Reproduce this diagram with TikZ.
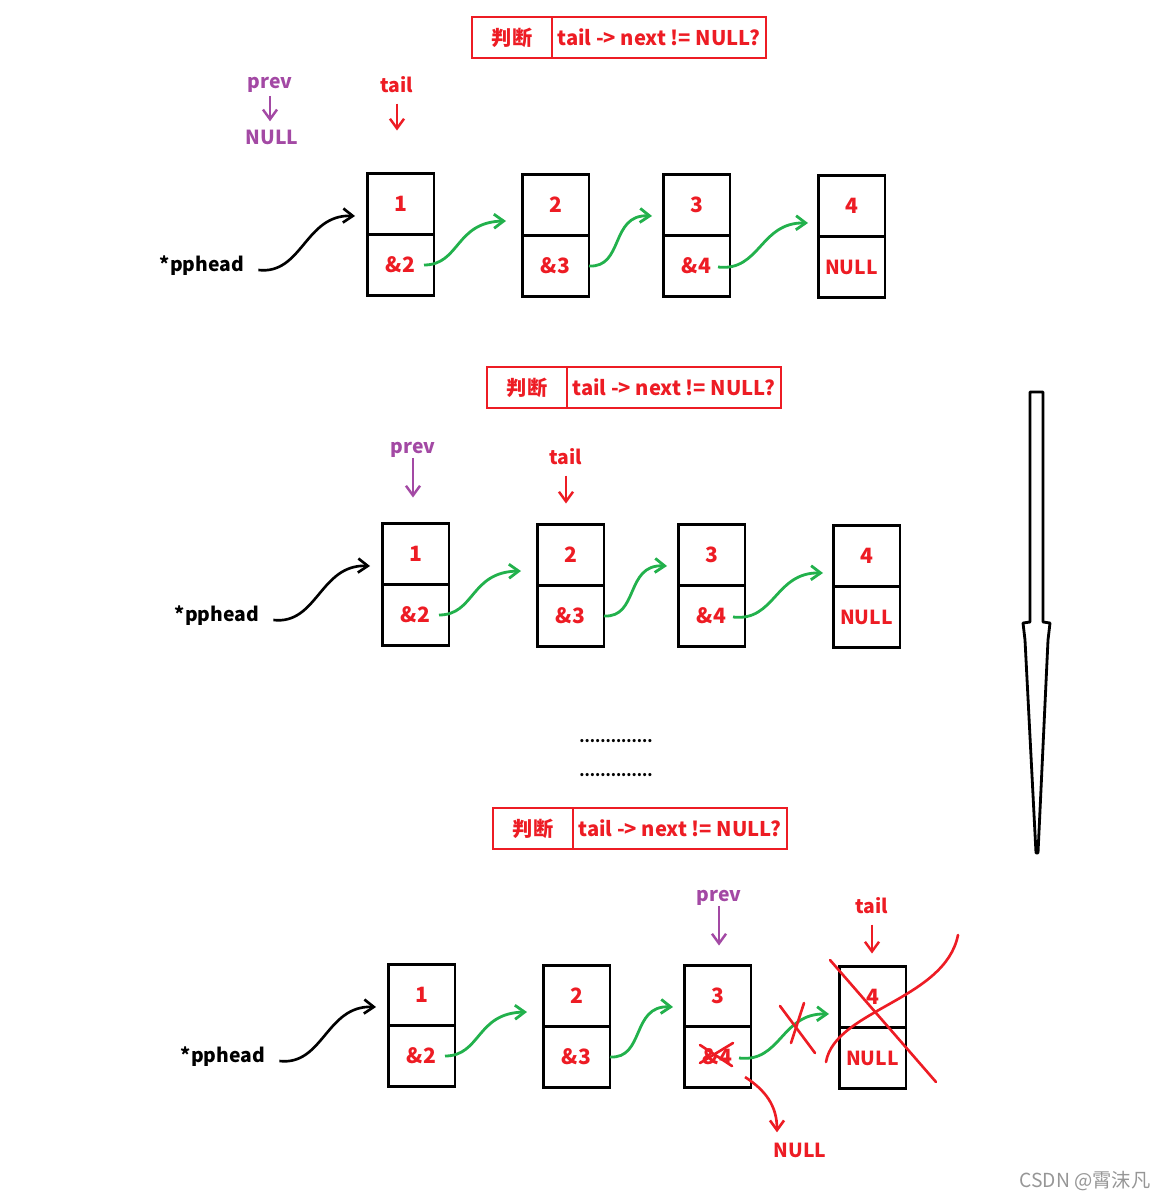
\documentclass[tikz,border=0pt]{standalone}
\usepackage{fontspec}
\setmainfont{Noto Sans CJK SC}
\usetikzlibrary{arrows.meta, positioning, calc}
\usepackage{xcolor}
\definecolor{lred}{RGB}{237, 28, 36}
\definecolor{lgreen}{RGB}{34, 177, 76}
\definecolor{lpurple}{RGB}{163, 73, 164}
\definecolor{lgray}{RGB}{150, 150, 150}

\begin{document}
\begin{tikzpicture}[x=0.02cm, y=-0.02cm,
  cell/.style={rectangle, draw=black, line width=1.7pt, outer sep=0pt,
               minimum width=1.34cm, minimum height=1.22cm, inner sep=0pt,
               font=\fontsize{12}{14}\selectfont\bfseries, text=lred},
  cond/.style={rectangle, draw=lred, line width=1.6pt, outer sep=0pt,
               minimum height=0.82cm, inner sep=0pt,
               font=\fontsize{11.5}{13}\selectfont\bfseries, text=lred},
  lbl/.style={font=\fontsize{11}{13}\selectfont\bfseries, inner sep=0pt},
  link/.style={-{Straight Barb[length=5.5pt, width=8pt]}, line width=1.6pt, lgreen},
  ptr/.style={-{Straight Barb[length=5.5pt, width=8pt]}, line width=1.4pt},
  cross/.style={lred, line width=1.5pt, line cap=round}
]
\useasboundingbox (0,0) rectangle (1166,1200);

% three snapshots of the list
\foreach \s/\dx/\dy in {a/0/0, b/15/350, c/21/791} {
  \begin{scope}[shift={(\dx,\dy)}]
    \node[cond, minimum width=1.6cm] (\s-judge) at (512,37.5) {判断};
    \node[cond, minimum width=4.28cm, anchor=west] (\s-cond) at (\s-judge.east)
      {tail -> next != NULL?};

    \node[cell] (\s1d) at (400.5,204) {1};
    \node[cell] (\s1p) at (400.5,265) {\&2};
    \node[cell] (\s2d) at (555.5,205) {2};
    \node[cell] (\s2p) at (555.5,266) {\&3};
    \node[cell] (\s3d) at (696.5,205) {3};
    \node[cell] (\s3p) at (696.5,266) {\&4};
    \node[cell] (\s4d) at (851.5,206) {4};
    \node[cell, font=\fontsize{11}{13}\selectfont\bfseries] (\s4p) at (851.5,267) {NULL};

    \node[lbl] (\s-head) at (202,266) {*pphead};
    \draw[ptr, line width=1.5pt] ($(\s-head.east)+(14,4)$)
      .. controls +(44,5) and +(-50,-2) .. ($(\s1d.west)+(-12,12)$);

    \draw[link] ($(\s1p.center)+(23.5,0)$)
      .. controls +(36,0) and +(-51,1) .. ($(\s2d.west)+(-16,16)$);
    \draw[link] (\s2p.east)
      .. controls +(35,2) and +(-42,-2) .. ($(\s3d.west)+(-11,11)$);
    \draw[link] ($(\s3p.center)+(21.5,1)$)
      .. controls +(42,5) and +(-48,-1) .. ($(\s4d.west)+(-10,17)$);
  \end{scope}
}

% pointers, first pass
\node[lbl, text=lpurple] (pv1) at (270,85) {prev};
\node[lbl, text=lpurple] (pn1) at (272,137) {NULL};
\draw[ptr, lpurple, shorten <=0.06cm, shorten >=0.16cm] (pv1.south) -- (pv1.south |- pn1.north);
\node[lbl, text=lred] (tl1) at (397,85) {tail};
\draw[ptr, lred, shorten <=0.2cm, shorten >=0.86cm] (tl1.south) -- (tl1.south |- a1d.north);

% pointers, second pass
\node[lbl, text=lpurple] (pv2) at (413,450) {prev};
\draw[ptr, lpurple, shorten >=0.52cm] (pv2.south) -- (pv2.south |- b1d.north);
\node[lbl, text=lred] (tl2) at (566,457) {tail};
\draw[ptr, lred, shorten <=0.2cm, shorten >=0.42cm] (tl2.south) -- (tl2.south |- b2d.north);

% dots
\node[lbl, font=\fontsize{8.5}{10}\selectfont\bfseries] (dots1) at (616,741) {..............};
\node[lbl, font=\fontsize{8.5}{10}\selectfont\bfseries] (dots2) at (616,775) {..............};

% pointers, last pass
\node[lbl, text=lpurple] (pv3) at (719,898) {prev};
\draw[ptr, lpurple, shorten >=0.4cm] (pv3.south) -- (pv3.south |- c3d.north);
\node[lbl, text=lred] (tl3) at (872,906) {tail};
\draw[ptr, lred, shorten <=0.2cm, shorten >=0.26cm] (tl3.south) -- (tl3.south |- c4d.north);

% unlink the last node
\node[lbl, text=lred] (nl3) at (800,1150) {NULL};
\draw[ptr, lred, line width=1.5pt] ($(c3p.center)+(27.5,20)$)
  .. controls +(20,13) and +(0,-27) .. ($(nl3.north)+(-23,-10)$);
\draw[cross] (700,1045) -- (732,1066);
\draw[cross] (700,1063) -- (733,1043);
\draw[cross] (780,1006) -- (815,1053);
\draw[cross] (804,1003) -- (791,1043);
\draw[cross] (830,960) -- (936,1082);
\draw[cross] (826,1062) .. controls (835,1010) and (945,1000) .. (958,935);

% direction of the passes
\draw[line width=1.6pt, line join=round, fill=white]
  (1030,392) -- (1043,392) -- (1043,622) -- (1050,623) -- (1048,640)
  -- (1038,853) -- (1036,853) -- (1025,640) -- (1023,623) -- (1030,622) -- cycle;

\node[font=\fontsize{11}{13}\selectfont, text=lgray] (mark) at (1085,1181) {CSDN @霄沫凡};

\end{tikzpicture}
\end{document}
